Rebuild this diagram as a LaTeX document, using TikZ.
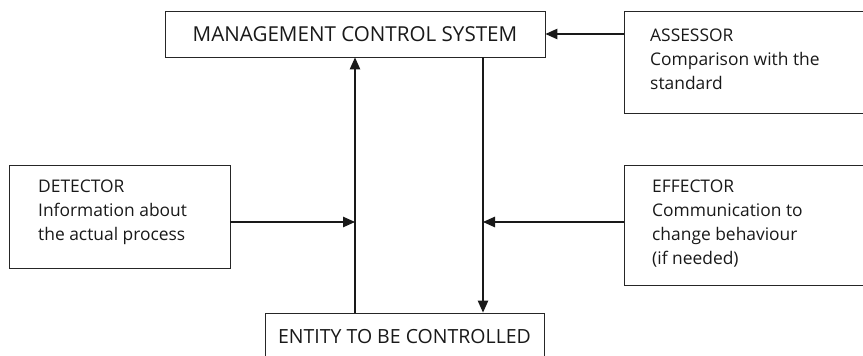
\documentclass[tikz,border=0pt]{standalone}
\usepackage{fontspec}
\setmainfont{Open Sans}
\usetikzlibrary{arrows.meta}
\tikzset{
  box/.style={draw=black!85, line width=0.9pt, rectangle, inner sep=0pt},
  bigtxt/.style={inner sep=0pt, text=black!90},
  txt/.style={font=\fontsize{17.4}{24}\selectfont, inner sep=0pt, anchor=base west, text=black!90},
  conn/.style={line width=1.1pt, draw=black!90},
  arr/.style={conn, -{Triangle[length=12pt,width=10.5pt]}}
}
\begin{document}
\begin{tikzpicture}[x=1pt,y=1pt]
\useasboundingbox (0,0) rectangle (863,356);
% boxes
\node[box, bigtxt, font=\fontsize{20.6}{24}\selectfont, minimum width=380pt, minimum height=46pt] (mcs) at (355,322) {MANAGEMENT CONTROL SYSTEM};
\node[box, minimum width=256pt, minimum height=102pt] (assessor) at (752,294) {};
\node[box, minimum width=221pt, minimum height=103pt] (detector) at (119.5,139.5) {};
\node[box, minimum width=256pt, minimum height=120pt] (effector) at (752,131) {};
\node[box, bigtxt, font=\fontsize{19.5}{24}\selectfont, minimum width=279pt, minimum height=47pt] (entity) at (404.5,19.5) {ENTITY TO BE CONTROLLED};
% texts
\node[txt] (as1) at (650,314) {ASSESSOR};
\node[txt] (as2) at (650,290) {Comparison with the};
\node[txt] (as3) at (650,266) {standard};
\node[txt] (de1) at (38,163) {DETECTOR};
\node[txt] (de2) at (38,139) {Information about};
\node[txt] (de3) at (38,115) {the actual process};
\node[txt] (ef1) at (652,163) {EFFECTOR};
\node[txt] (ef2) at (652,139) {Communication to};
\node[txt] (ef3) at (652,115) {change behaviour};
\node[txt] (ef4) at (652,91) {(if needed)};
% junctions
\coordinate (jl) at (355,134);
\coordinate (jr) at (483,134);
% connectors
\draw[arr] (assessor.west |- mcs.east) -- (mcs.east);
\draw[arr] (jl |- entity.north) -- (jl |- mcs.south);
\draw[arr] (jr |- mcs.south) -- (jr |- entity.north);
\draw[arr] (detector.east |- jl) -- (jl);
\draw[arr] (effector.west |- jr) -- (jr);
\end{tikzpicture}
\end{document}
